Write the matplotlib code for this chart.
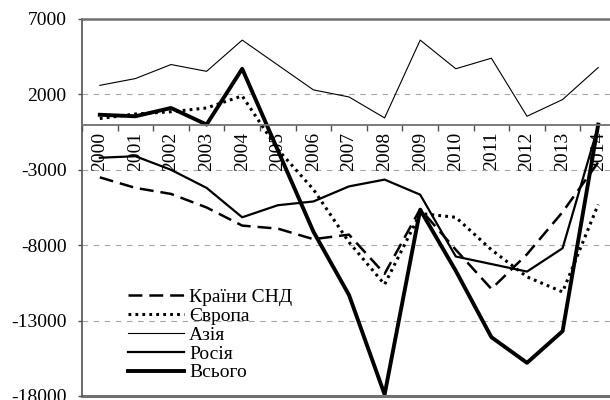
"""Зовнішньоторговельне сальдо за регіонами, 2000-2014."""

import matplotlib

matplotlib.use("Agg")
import matplotlib.pyplot as plt
import numpy as np

years = [str(y) for y in range(2000, 2015)]

cis = [-3500, -4200, -4600, -5500, -6700, -6900, -7600, -7300, -9900,
       -5600, -8300, -10900, -8600, -5800, -2500]
europe = [400, 700, 850, 1100, 1900, -1650, -4300, -7800, -10600,
          -5900, -6150, -8300, -10100, -11100, -5300]
asia = [2600, 3050, 3980, 3530, 5600, 3950, 2300, 1830, 440,
        5600, 3700, 4400, 550, 1660, 3780]
russia = [-2200, -2100, -3000, -4200, -6150, -5350, -5100, -4100, -3650,
          -4650, -8750, -9250, -9750, -8200, -100]
total = [650, 550, 1100, 0, 3700, -1700, -7100, -11300, -17900,
         -5650, -9700, -14100, -15800, -13700, 0]

labels = ["Країни СНД", "Європа", "Азія", "Росія", "Всього"]
yticks = [7000, 2000, -3000, -8000, -13000, -18000]

plt.rcParams["font.family"] = ["Liberation Serif", "DejaVu Serif"]
plt.rcParams["lines.scale_dashes"] = False

fig = plt.figure(figsize=(6.1, 4.0), dpi=100)
ax = fig.add_axes([82 / 610, 4 / 400, 534 / 610, 377 / 400])

x = np.arange(len(years))
ax.plot(x, cis, color="black", lw=1.8, dashes=(10, 5), dash_capstyle="butt",
        label=labels[0])
ax.plot(x, europe, color="black", lw=2.2, dashes=(2, 3), dash_capstyle="butt",
        label=labels[1])
ax.plot(x, asia, color="black", lw=0.8, label=labels[2])
ax.plot(x, russia, color="black", lw=1.6, label=labels[3])
ax.plot(x, total, color="black", lw=2.8, label=labels[4])

ax.set_xlim(-0.5, len(years) - 0.5)
ax.set_ylim(-18000, 7000)

# горизонтальна сітка і нижня межа
for g in yticks[1:-1]:
    ax.axhline(g, color="#a6a6a6", lw=0.8, dashes=(4, 4), zorder=0)
ax.axhline(-18000, color="#707070", lw=2.2, clip_on=False)

ax.spines["right"].set_visible(False)
ax.spines["top"].set_color("#707070")
ax.spines["top"].set_linewidth(1.8)
ax.spines["left"].set_color("#505050")
ax.spines["left"].set_linewidth(1.2)
ax.spines["bottom"].set_position(("data", 0))
ax.spines["bottom"].set_color("#707070")
ax.spines["bottom"].set_linewidth(1.3)

ax.set_yticks(yticks)
ax.set_yticklabels([str(v) for v in yticks])
ax.tick_params(axis="y", direction="out", length=3, width=1, pad=8,
               labelsize=14, color="#505050")

ax.set_xticks(x)
ax.set_xticklabels(years, rotation=90)
ax.set_xticks(np.arange(len(years) + 1) - 0.5, minor=True)
ax.tick_params(axis="x", which="major", length=0, pad=5, labelsize=14)
ax.tick_params(axis="x", which="minor", direction="out", length=4, width=1,
               color="#505050")

fig.legend(loc="upper left", bbox_to_anchor=(128 / 610, 1 - 288 / 400),
           bbox_transform=fig.transFigure, frameon=False, fontsize=14,
           handlelength=2.9, handletextpad=0.25, labelspacing=0.07,
           borderpad=0, borderaxespad=0)

fig.savefig("out.png", dpi=100)
